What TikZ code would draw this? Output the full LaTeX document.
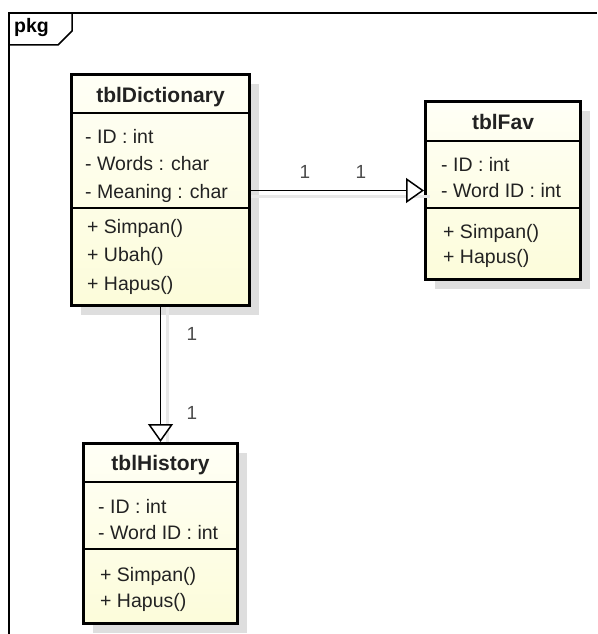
\documentclass[tikz,border=0pt]{standalone}
\usepackage{fontspec}
\setmainfont{Liberation Sans}
\usetikzlibrary{arrows.meta,shadows}
\definecolor{cfTop}{RGB}{255,255,246}
\definecolor{cfBot}{RGB}{252,252,218}
\definecolor{txt}{RGB}{34,34,34}
\begin{document}
\begin{tikzpicture}[x=1pt,y=-1pt,
  classbox/.style={draw=black, line width=3pt, anchor=north west, inner sep=0pt,
    top color=cfTop, bottom color=cfBot,
    drop shadow={shadow xshift=9pt, shadow yshift=-9pt, fill=black!13, opacity=1}},
  ctitle/.style={font=\fontsize{21}{24}\selectfont\bfseries, text=txt, inner sep=0pt, anchor=base},
  member/.style={font=\fontsize{19.5}{22}\selectfont, text=txt, anchor=base west, inner sep=0pt},
  sepline/.style={line width=1.3pt},
  assoc/.style={line width=1.5pt, -{Triangle[open, length=18pt, width=25pt, fill=white]}},
  mult/.style={font=\fontsize{19}{22}\selectfont, text=black!70, inner sep=0pt, anchor=base},
  shadowline/.style={line width=3pt, draw=black!9}
]
\useasboundingbox (0,0) rectangle (597,634);
% frame
\draw[line width=1.5pt] (9,634) -- (9,13) -- (597,13);
\draw[line width=1.5pt] (9,45) -- (58,45) -- (72,31) -- (72,13);
\node[font=\fontsize{19.5}{22}\selectfont\bfseries, anchor=base west, inner sep=0pt] (pkg) at (14,32.5) {pkg};

% class boxes
\node[classbox, minimum width=178pt, minimum height=231pt] (dict) at (70,73) {};
\node[classbox, minimum width=155pt, minimum height=178pt] (fav) at (424,100) {};
\node[classbox, minimum width=154pt, minimum height=180pt] (hist) at (82,442) {};

% connector shadows
\draw[shadowline] ([yshift=-6pt]dict.east |- fav.west) -- ([yshift=-6pt,xshift=6pt]fav.west);
\draw[shadowline] ([xshift=7pt]dict.south) -- ([xshift=7pt]hist.north);

% separators
\draw[sepline] (dict.west |- 0,113) -- (dict.east |- 0,113);
\draw[sepline] (dict.west |- 0,208) -- (dict.east |- 0,208);
\draw[sepline] (fav.west |- 0,141) -- (fav.east |- 0,141);
\draw[sepline] (fav.west |- 0,208) -- (fav.east |- 0,208);
\draw[sepline] (hist.west |- 0,482) -- (hist.east |- 0,482);
\draw[sepline] (hist.west |- 0,549) -- (hist.east |- 0,549);

% tblDictionary
\node[ctitle] (dictT) at (160.5,102) {tblDictionary};
\node[member] (d1) at (85,143) {- ID : int};
\node[member] (d2) at (85,170.5) {- Words : char};
\node[member] (d3) at (85,198.5) {- Meaning : char};
\node[member] (d4) at (87,233) {+ Simpan()};
\node[member] (d5) at (87,261.5) {+ Ubah()};
\node[member] (d6) at (87,290) {+ Hapus()};

% tblFav
\node[ctitle] (favT) at (503,129) {tblFav};
\node[member] (f1) at (441,171) {- ID : int};
\node[member] (f2) at (441,197) {- Word ID : int};
\node[member] (f3) at (443,238) {+ Simpan()};
\node[member] (f4) at (443,263.5) {+ Hapus()};

% tblHistory
\node[ctitle] (histT) at (160.5,470) {tblHistory};
\node[member] (h1) at (98,513) {- ID : int};
\node[member] (h2) at (98,539) {- Word ID : int};
\node[member] (h3) at (100,581) {+ Simpan()};
\node[member] (h4) at (100,607) {+ Hapus()};

% connectors
\draw[assoc] (dict.east |- fav.west) -- (fav.west);
\draw[assoc] (dict.south) -- (hist.north);

% multiplicities
\node[mult] (m1) at (305,178) {1};
\node[mult] (m2) at (361,178) {1};
\node[mult] (m3) at (192,340) {1};
\node[mult] (m4) at (192,419) {1};
\end{tikzpicture}
\end{document}
